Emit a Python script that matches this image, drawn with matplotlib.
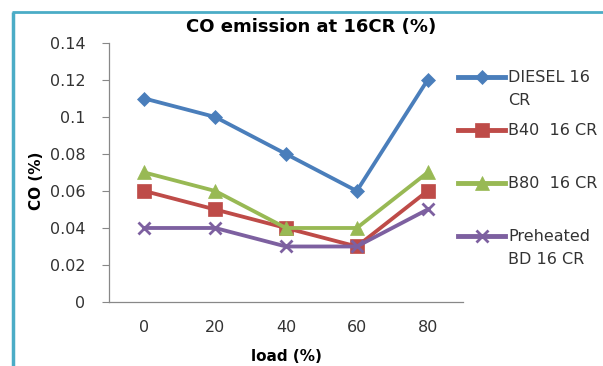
import numpy as np
import matplotlib.pyplot as plt

# chart data
loads = ["0", "20", "40", "60", "80"]
diesel = [0.11, 0.10, 0.08, 0.06, 0.12]
b40 = [0.06, 0.05, 0.04, 0.03, 0.06]
b80 = [0.07, 0.06, 0.04, 0.04, 0.07]
preheated = [0.04, 0.04, 0.03, 0.03, 0.05]
series_labels = ["DIESEL 16\nCR", "B40  16 CR", "B80  16 CR", "Preheated\nBD 16 CR"]

colors = ["#4A7EBB", "#BE4B48", "#98B954", "#7D60A0"]
markers = ["D", "s", "^", "x"]
msizes = [7, 10, 10, 9]

plt.rcParams['font.family'] = ['DejaVu Sans']

fig = plt.figure(figsize=(6.03, 3.66), dpi=100)
ax = fig.add_axes([0.1808, 0.1749, 0.587, 0.7076])

x = np.arange(len(loads))
for vals, c, m, ms in zip([diesel, b40, b80, preheated], colors, markers, msizes):
    ax.plot(x, vals, color=c, lw=2.75, marker=m, markersize=ms,
            markeredgewidth=2 if m == "x" else 0.5, markeredgecolor=c)

ax.set_xlim(-0.5, len(loads) - 0.5)
ax.set_ylim(0, 0.14)
ax.set_yticks(np.arange(0, 0.141, 0.02))
ax.set_yticklabels(["0", "0.02", "0.04", "0.06", "0.08", "0.1", "0.12", "0.14"])
ax.set_xticks(x)
ax.set_xticklabels(loads)
ax.tick_params(axis="x", length=0, pad=13, labelsize=11.5, colors="#333333")
ax.tick_params(axis="y", length=5, pad=12, labelsize=11.5, colors="#333333", color="#888888")
for s in ["top", "right"]:
    ax.spines[s].set_visible(False)
for s in ["left", "bottom"]:
    ax.spines[s].set_color("#888888")
    ax.spines[s].set_linewidth(0.9)

ax.set_title("CO emission at 16CR (%)", fontsize=13, fontweight="bold", pad=8, x=0.572)
ax.set_xlabel("load (%)", fontsize=11, fontweight="bold", labelpad=10)
ax.set_ylabel("CO (%)", fontsize=11, fontweight="bold")
ax.yaxis.set_label_coords(-0.183, 0.467)

# legend drawn by hand so the marker sits on the first text line
lax = fig.add_axes([0, 0, 1, 1])
lax.set_xlim(0, 603)
lax.set_ylim(366, 0)
lax.axis("off")
leg_y = [77, 130, 183, 236]
for yy, c, m, ms, lab in zip(leg_y, colors, markers, msizes, series_labels):
    lax.plot([458, 505], [yy, yy], color=c, lw=3.5)
    lax.plot([481.5], [yy], color=c, marker=m, markersize=ms,
             markeredgewidth=2 if m == "x" else 0.5, markeredgecolor=c)
    lax.text(508, yy - 7, lab, fontsize=11.5, color="#333333", va="top",
             linespacing=1.7)

# teal frame on the left and top
lax.plot([13, 13], [366, 12], color="#4BACC6", lw=2.5, solid_capstyle="butt")
lax.plot([12, 603], [12, 12], color="#4BACC6", lw=2, solid_capstyle="butt")

fig.savefig("out.png", dpi=100)
